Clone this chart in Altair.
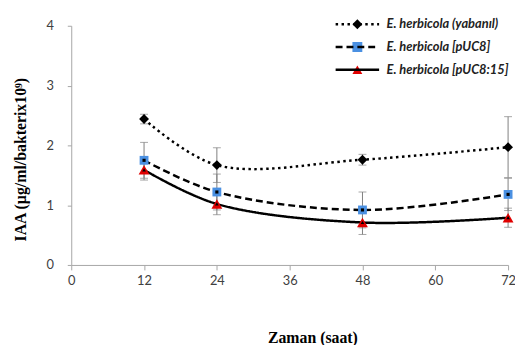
import altair as alt
import pandas as pd

hours = [12, 24, 48, 72]
series_names = ["E. herbicola (yabanıl)", "E. herbicola [pUC8]", "E. herbicola  [pUC8:15]"]
series_keys = ["k1", "k2", "k3"]
wild_vals = [2.44, 1.67, 1.76, 1.97]
wild_err = [0.08, 0.29, 0.09, 0.51]
puc8_vals = [1.75, 1.22, 0.92, 1.18]
puc8_err = [0.30, 0.30, 0.30, 0.27]
puc815_vals = [1.59, 1.02, 0.71, 0.79]
puc815_err = [0.17, 0.18, 0.20, 0.16]

x_ticks = [0, 12, 24, 36, 48, 60, 72]
y_ticks = [0, 1, 2, 3, 4]

fill_colors = ["#000000", "#4a90e2", "#e00000"]
dashes = [[2.5, 3.5], [7, 4], [1, 0]]
shapes = ["diamond", "square", "triangle-up"]

rows = []
for name, key, vals, errs in zip(series_names, series_keys,
                                 [wild_vals, puc8_vals, puc815_vals],
                                 [wild_err, puc8_err, puc815_err]):
    for h, v, e in zip(hours, vals, errs):
        rows.append({"series": name, "key": key, "hour": h, "value": v,
                     "lo": v - e, "hi": v + e})
df = pd.DataFrame(rows)

font = "Lato"
serif = "Liberation Serif"

x_enc = alt.X("hour:Q", scale=alt.Scale(domain=[0, 72], nice=False),
              axis=alt.Axis(values=x_ticks, title="Zaman (saat)", grid=False,
                            titleFont=serif, titleFontSize=16, titleFontWeight="bold",
                            titleColor="#000000", titleX=244, titleY=73,
                            titleBaseline="middle", titleAnchor="middle",
                            labelFont=font, labelFontSize=13, labelColor="#404040",
                            labelPadding=5, tickSize=5, domainColor="#a6a6a6",
                            tickColor="#a6a6a6", labelFlush=False))
y_axis = alt.Axis(values=y_ticks, title="IAA (µg/ml/bakterix10⁹)", grid=False,
                  titleFont=serif, titleFontSize=16, titleFontWeight="bold",
                  titleColor="#000000", titleX=-51, titleY=135, titleAngle=-90,
                  titleBaseline="middle", titleAnchor="middle",
                  labelFont=font, labelFontSize=13, labelColor="#404040",
                  labelPadding=14, tickSize=4, domainColor="#a6a6a6",
                  tickColor="#a6a6a6", format="d")
y_scale = alt.Scale(domain=[0, 4], nice=False)

base = alt.Chart(df)

err_rule = base.mark_rule(color="#808080", strokeWidth=1).encode(
    x=x_enc, y=alt.Y("lo:Q", scale=y_scale, axis=y_axis), y2="hi:Q",
    detail="series:N")
cap_lo = base.mark_tick(color="#808080", thickness=1, size=8, orient="horizontal").encode(
    x="hour:Q", y="lo:Q")
cap_hi = base.mark_tick(color="#808080", thickness=1, size=8, orient="horizontal").encode(
    x="hour:Q", y="hi:Q")

LEG_X, LEG_Y, ROW_H = 266, -13, 23

lines = base.mark_line(color="black", strokeWidth=2.5, interpolate="catmull-rom").encode(
    x="hour:Q", y="value:Q",
    strokeDash=alt.StrokeDash(
        "series:N", scale=alt.Scale(domain=series_names, range=dashes),
        legend=alt.Legend(title=None, orient="none", legendX=LEG_X, legendY=LEG_Y,
                          symbolType="stroke", symbolSize=1936, symbolStrokeWidth=2.5,
                          symbolStrokeColor="black", clipHeight=ROW_H, rowPadding=0,
                          labelOffset=6, zindex=2)))

sizes = [100, 80, 120]
inner_sizes = [0, 10, 14]
marker_layers = []
for name, shp, sz, isz, col in zip(series_names, shapes, sizes, inner_sizes, fill_colors):
    sub = base.transform_filter(alt.datum.series == name)
    marker_layers.append(sub.mark_point(shape=shp, size=sz, filled=True, color=col,
                                        opacity=1).encode(x="hour:Q", y="value:Q"))
    if isz:
        marker_layers.append(sub.mark_point(shape=shp, size=isz, filled=True, color="black",
                                            opacity=1).encode(x="hour:Q", y="value:Q"))

mleg = dict(title=None, orient="none", legendX=LEG_X + 17, legendY=LEG_Y,
            symbolSize=100, symbolOpacity=1, symbolStrokeWidth=0,
            clipHeight=ROW_H, rowPadding=0, labelExpr="''", zindex=1)
marker_legend = base.mark_point(filled=True, size=0, opacity=1).encode(
    x="hour:Q", y="value:Q",
    shape=alt.Shape("key:N", scale=alt.Scale(domain=series_keys, range=shapes),
                    legend=alt.Legend(**mleg)),
    fill=alt.Fill("key:N", scale=alt.Scale(domain=series_keys, range=fill_colors),
                  legend=alt.Legend(**mleg)),
)

chart = alt.layer(err_rule, cap_lo, cap_hi, lines, *marker_layers, marker_legend).properties(
    width=442, height=242,
    padding={"left": 64, "top": 16, "right": 7, "bottom": 79},
    autosize=alt.AutoSizeParams(type="none"),
).configure_view(stroke=None).configure_legend(
    padding=0,
    labelFont=font, labelFontSize=13, labelFontStyle="italic", labelFontWeight="bold",
    labelColor="#222222",
)

chart.save("out.html", embed_options={"renderer": "svg", "actions": False})
